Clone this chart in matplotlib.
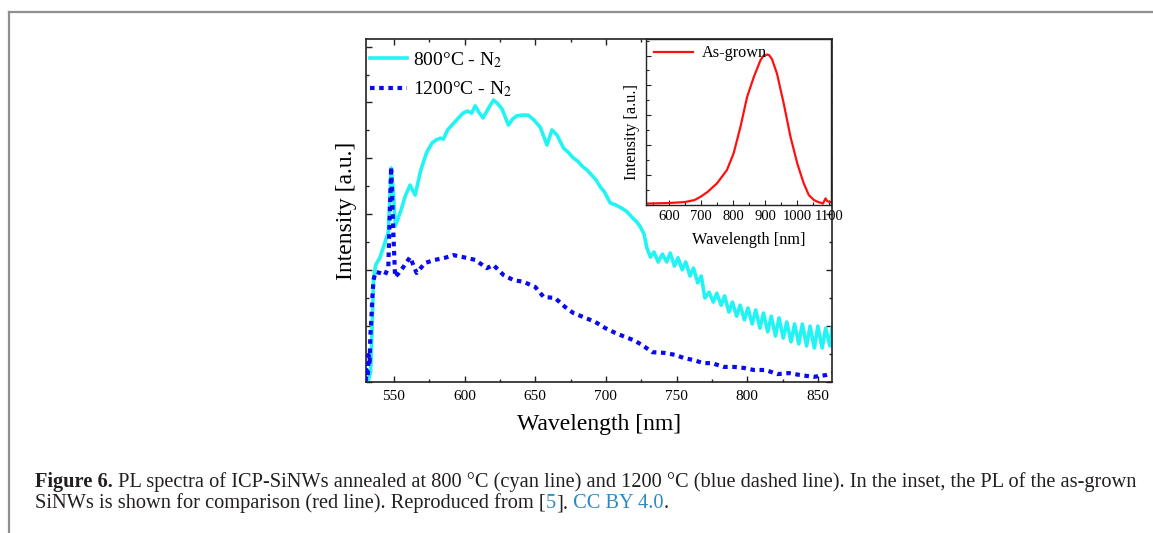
import numpy as np
import matplotlib
matplotlib.use("Agg")
import matplotlib.pyplot as plt
from matplotlib.ticker import MultipleLocator, NullFormatter
from matplotlib.lines import Line2D

plt.rcParams["font.family"] = ["Liberation Serif", "DejaVu Serif"]
plt.rcParams["mathtext.fontset"] = "stix"

# ---- data (intensity in arbitrary units) ----
wl_800 = [530, 532, 533.5, 534.5, 535.5, 537, 540, 543, 546, 548, 549.5, 551, 555, 558,
          561.4, 565, 569, 573, 577, 580, 583, 585, 588, 591, 595, 599, 602, 605, 607.5,
          610, 613, 617, 620.5, 623, 626.5, 631, 634, 637, 641, 645, 649, 653.5, 658.3,
          661.8, 665.4, 670, 673, 677, 680, 683, 686.6, 690, 693, 696, 699, 703, 707, 711,
          715, 719, 722, 724.4, 727, 729, 731.5, 734, 737, 740, 743, 745.5, 748.5, 751,
          754, 756.5, 759.5, 762, 765, 767.5, 770, 773, 776, 778.5, 781.5, 784, 787,
          789.5, 792.5, 795, 798, 800.5, 803.5, 806, 809, 811.5, 814.5, 817, 820, 822.5,
          825.5, 828, 831, 833.5, 836.5, 839, 842, 844.5, 847.5, 850, 853, 855.5, 858.5, 860]
pl_800 = [0.003, 0.006, 0.029, 0.152, 0.297, 0.341, 0.362, 0.399, 0.437, 0.624, 0.560,
          0.455, 0.501, 0.542, 0.574, 0.545, 0.618, 0.668, 0.697, 0.706, 0.711, 0.708,
          0.735, 0.749, 0.767, 0.784, 0.790, 0.784, 0.805, 0.787, 0.770, 0.799, 0.822,
          0.813, 0.796, 0.749, 0.767, 0.776, 0.778, 0.778, 0.764, 0.743, 0.691, 0.735,
          0.720, 0.682, 0.671, 0.653, 0.644, 0.630, 0.618, 0.603, 0.589, 0.569, 0.554,
          0.522, 0.516, 0.507, 0.496, 0.478, 0.466, 0.452, 0.431, 0.391, 0.364, 0.379,
          0.350, 0.373, 0.350, 0.376, 0.338, 0.362, 0.327, 0.350, 0.309, 0.332, 0.289,
          0.309, 0.245, 0.262, 0.233, 0.259, 0.224, 0.251, 0.204, 0.233, 0.192, 0.224,
          0.181, 0.216, 0.169, 0.210, 0.157, 0.201, 0.146, 0.192, 0.134, 0.187, 0.128,
          0.175, 0.117, 0.169, 0.111, 0.169, 0.105, 0.163, 0.099, 0.163, 0.099, 0.157,
          0.105, 0.157]

wl_1200 = [530, 530.7, 531.5, 532, 532.8, 533.3, 534, 534.6, 535.5, 537, 540, 543.7, 546,
           548, 549.5, 550.8, 553.5, 556.6, 561.4, 566, 572, 579, 586, 592, 599, 607.5,
           615.7, 620.4, 627.5, 634.6, 641.7, 650, 655.9, 664, 671, 677, 685.4, 692.5,
           699.6, 706.7, 713.8, 719.6, 725.6, 732.7, 741, 749.2, 755, 762, 769, 775,
           783.4, 790.5, 797.6, 804.7, 813, 821.3, 829.5, 837.8, 847, 855.5, 860]
pl_1200 = [0.003, 0.035, 0.017, 0.079, 0.058, 0.137, 0.181, 0.239, 0.297, 0.321, 0.318,
           0.312, 0.335, 0.627, 0.443, 0.306, 0.318, 0.335, 0.364, 0.318, 0.347, 0.356,
           0.362, 0.370, 0.364, 0.356, 0.332, 0.341, 0.312, 0.297, 0.292, 0.277, 0.248,
           0.245, 0.219, 0.201, 0.187, 0.175, 0.157, 0.143, 0.131, 0.122, 0.108, 0.087,
           0.085, 0.079, 0.070, 0.064, 0.055, 0.055, 0.044, 0.044, 0.041, 0.035, 0.035,
           0.023, 0.026, 0.020, 0.015, 0.020, 0.026]

wl_asgrown = [530, 600, 650, 680, 699, 720, 750, 781, 802, 823, 843.6, 864.4, 885, 895,
              906, 912, 921, 937, 958, 979, 1000, 1020, 1036, 1052, 1065, 1073, 1080,
              1088, 1093, 1098, 1103]
pl_asgrown = [0.007, 0.010, 0.016, 0.028, 0.048, 0.076, 0.129, 0.209, 0.311, 0.469, 0.649,
              0.769, 0.870, 0.900, 0.906, 0.903, 0.880, 0.790, 0.609, 0.409, 0.249, 0.129,
              0.058, 0.028, 0.016, 0.012, 0.007, 0.038, 0.022, 0.018, 0.016]

caption_1 = [("Figure 6.", "txt", "bold"),
             (" PL spectra of ICP-SiNWs annealed at 800 °C (cyan line) and 1200 °C (blue dashed "
              "line). In the inset, the PL of the as-grown", "txt", "normal")]
caption_2 = [("SiNWs is shown for comparison (red line). Reproduced from [", "txt", "normal"),
             ("5", "link", "normal"), ("].", "txt", "normal"),
             (" CC BY 4.0", "link", "normal"), (".", "txt", "normal")]

W, H = 1153, 533
fig = plt.figure(figsize=(W / 100, H / 100), dpi=100)

# page frame (grey lines top and left)
fig.add_artist(Line2D([9 / W, 1], [1 - 12 / H, 1 - 12 / H], transform=fig.transFigure,
                      color="#8f8f8f", lw=1.6))
fig.add_artist(Line2D([9 / W, 9 / W], [0, 1 - 12 / H], transform=fig.transFigure,
                      color="#8f8f8f", lw=1.6))

ax = fig.add_axes([365.7 / W, 1 - 382 / H, (832 - 365.7) / W, (382 - 39) / H])
ax.plot(wl_800, pl_800, color="#22f3f3", lw=2.6, label="800°C - N$_2$", zorder=2)
ax.plot(wl_1200, pl_1200, color="#0a0af0", lw=3.0, ls=(0, (1.1, 1.1)),
        label="1200°C - N$_2$", zorder=3)
ax.set_xlim(530, 860)
ax.set_ylim(0, 1)
ax.xaxis.set_major_locator(MultipleLocator(50))
ax.xaxis.set_minor_locator(MultipleLocator(25))
ax.yaxis.set_major_locator(MultipleLocator(0.163))
ax.yaxis.set_minor_locator(MultipleLocator(0.0815))
ax.yaxis.set_major_formatter(NullFormatter())
ax.tick_params(which="both", direction="in", top=True, right=True, width=1.0,
               color="#222222", labelsize=11)
ax.tick_params(which="major", length=4.5)
ax.tick_params(which="minor", length=2.5)
ax.tick_params(axis="x", pad=6)
for s in ax.spines.values():
    s.set_linewidth(1.2)
    s.set_color("#222222")
ax.set_xlabel("Wavelength [nm]", fontsize=17, labelpad=8)
ax.set_ylabel("Intensity [a.u.]", fontsize=17, labelpad=3)
ax.legend(loc="upper left", frameon=False, fontsize=14, handlelength=1.9,
          handletextpad=0.3, labelspacing=0.5, borderaxespad=0.0,
          bbox_to_anchor=(-0.008, 0.99))

# inset
ins = fig.add_axes([646.3 / W, 1 - 204.7 / H, (831 - 646.3) / W, (204.7 - 39) / H])
ins.plot(wl_asgrown, pl_asgrown, color="#ff1010", lw=1.6, label="As-grown")
ins.set_xlim(530, 1105)
ins.set_ylim(0, 1)
ins.xaxis.set_major_locator(MultipleLocator(100))
ins.xaxis.set_minor_locator(MultipleLocator(50))
ins.yaxis.set_major_locator(MultipleLocator(0.18))
ins.yaxis.set_minor_locator(MultipleLocator(0.09))
ins.yaxis.set_major_formatter(NullFormatter())
ins.tick_params(which="both", direction="in", width=0.8, color="#222222", labelsize=10.5)
ins.tick_params(which="major", length=3.5)
ins.tick_params(which="minor", length=2)
ins.tick_params(axis="x", pad=4)
for s in ins.spines.values():
    s.set_linewidth(1.0)
    s.set_color("#222222")
ins.set_xlabel("Wavelength [nm]", fontsize=11.7, va="top")
ins.xaxis.set_label_coords(0.553, -0.165)
ins.set_ylabel("Intensity [a.u.]", fontsize=11.7, va="center")
ins.yaxis.set_label_coords(-0.077, 0.436)
ins.legend(loc="upper left", frameon=False, fontsize=11.7, handlelength=2.4,
           handletextpad=0.5, borderaxespad=0.1, bbox_to_anchor=(0.0, 1.01))

# caption with coloured pieces, size fitted to the printed line width
colours = {"txt": "#231f20", "link": "#2a8ac4"}
renderer = fig.canvas.get_renderer()


def rich_line(x, y, parts, fs):
    made = []
    for s, c, w in parts:
        t = fig.text(x, y, s, color=colours[c], fontweight=w, fontsize=fs,
                     va="baseline", ha="left")
        made.append(t)
        x = t.get_window_extent(renderer).x1 / W
    return made, x


trial, end = rich_line(35 / W, 0.5, caption_1, 12)
fs = 12 * (1134 - 35) / (end * W - 35)
for t in trial:
    t.remove()
rich_line(35 / W, 1 - 487 / H, caption_1, fs)
rich_line(35 / W, 1 - 508 / H, caption_2, fs)

fig.savefig("out.png", dpi=100)
